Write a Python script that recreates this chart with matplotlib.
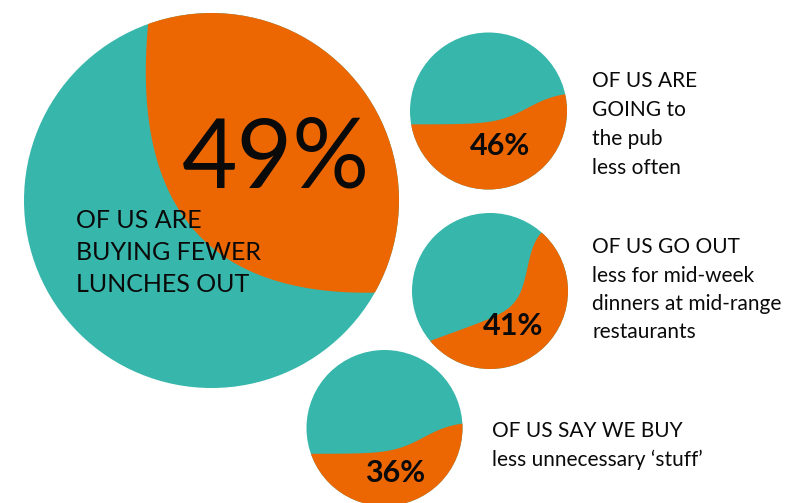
import numpy as np
import matplotlib
matplotlib.use('Agg')
import matplotlib.pyplot as plt
from matplotlib.patches import Circle, Polygon

# survey shares (percent of respondents)
pcts = [49, 46, 41, 36]
pct_labels = ['49%', '46%', '41%', '36%']
statements = [
    ['OF US ARE', 'BUYING FEWER', 'LUNCHES OUT'],
    ['OF US ARE', 'GOING to', 'the pub', 'less often'],
    ['OF US GO OUT', 'less for mid-week', 'dinners at mid-range', 'restaurants'],
    ['OF US SAY WE BUY', 'less unnecessary \u2018stuff\u2019'],
]

TEAL = '#37b6ab'
ORANGE = '#ec6602'
plt.rcParams['font.family'] = ['Lato', 'DejaVu Sans']

########################################################
# layout, in pixels (y down): centre, radius, rotation of the split line
circles = [
    dict(cx=211.5, cy=200.5, r=187.5, rot=135),
    dict(cx=488.5, cy=111.0, r=78.5, rot=0),
    dict(cx=490.0, cy=291.0, r=78.0, rot=20),
    dict(cx=384.5, cy=428.0, r=78.0, rot=0),
]

def arch(u):
    return -0.6 * (u + 0.1) ** 2

def step(amp, k, u0):
    return lambda u: amp / (1 + np.exp(-k * (u - u0)))

shapes = [arch, step(0.42, 5, 0.5), step(0.9, 7, 0.55), step(0.42, 5, 0.5)]

# (x centre, baseline, size) for the numbers; (x, first baseline, line step, size) for the words
pct_pos = [(276, 188, 69), (500, 155, 22), (513, 335, 22), (395, 482, 22)]
text_pos = [(76, 228, 32, 18), (592, 87, 29, 15), (592, 253, 28.5, 15), (492, 437, 28.5, 15)]

########################################################
def orange_share(off, shape):
    # fraction of the unit disc lying below the curve v = off + shape(u)
    u = np.linspace(-1, 1, 4001)
    h = np.sqrt(np.clip(1 - u ** 2, 0, None))
    seg = np.clip(off + shape(u), -h, h) + h
    return np.trapezoid(seg, u) / np.pi

def solve_offset(frac, shape):
    lo, hi = -3.0, 3.0
    for _ in range(60):
        mid = 0.5 * (lo + hi)
        if orange_share(mid, shape) < frac:
            lo = mid
        else:
            hi = mid
    return 0.5 * (lo + hi)

fig = plt.figure(figsize=(7.85, 5.03), dpi=100)
ax = fig.add_axes([0, 0, 1, 1])
ax.set_xlim(0, 785)
ax.set_ylim(503, 0)
ax.axis('off')

for pct, c, shape in zip(pcts, circles, shapes):
    circ = Circle((c['cx'], c['cy']), c['r'], facecolor=TEAL, edgecolor='none')
    ax.add_patch(circ)

    off = solve_offset(pct / 100.0, shape)
    u = np.linspace(-1.3, 1.3, 300)
    v = off + shape(u)
    u = np.concatenate([u, [1.3, -1.3]])
    v = np.concatenate([v, [-2.5, -2.5]])
    th = np.deg2rad(c['rot'])
    X = u * np.cos(th) - v * np.sin(th)
    Y = u * np.sin(th) + v * np.cos(th)
    pts = np.column_stack([c['cx'] + c['r'] * X, c['cy'] - c['r'] * Y])
    poly = Polygon(pts, closed=True, facecolor=ORANGE, edgecolor='none')
    ax.add_patch(poly)
    poly.set_clip_path(circ)

for i, lab in enumerate(pct_labels):
    x, y, fs = pct_pos[i]
    ax.text(x, y, lab, fontsize=fs, ha='center', va='baseline', color='#0a0a0a',
            fontweight='normal' if i == 0 else 'bold')

for lines, (x, y0, dy, fs) in zip(statements, text_pos):
    for j, line in enumerate(lines):
        ax.text(x, y0 + j * dy, line, fontsize=fs, ha='left', va='baseline', color='#0a0a0a')

fig.savefig('out.png', dpi=100)
